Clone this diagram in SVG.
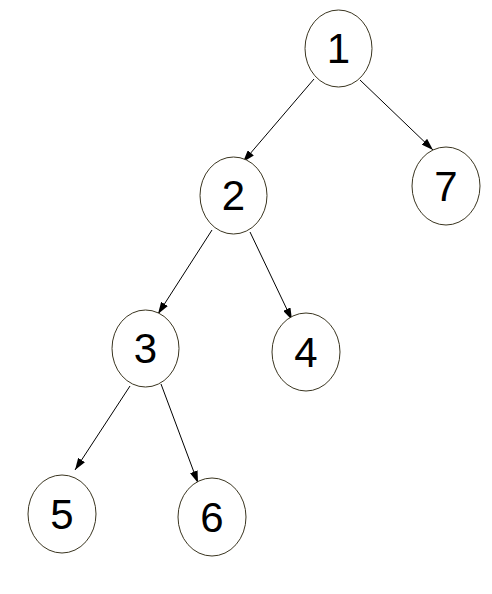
<svg xmlns="http://www.w3.org/2000/svg" width="492" height="594" viewBox="0 0 492 594">
<style>
.node ellipse{fill:#ffffff;stroke:#3a3520;stroke-width:1}
.node text{font-family:"Liberation Sans",Arial,sans-serif;font-size:42px;fill:#000;text-anchor:middle}
.edge{stroke:#000;stroke-width:1;fill:none;marker-end:url(#arr)}
</style>
<defs>
<marker id="arr" viewBox="0 0 12 8" refX="12" refY="4" markerWidth="12" markerHeight="8" markerUnits="userSpaceOnUse" orient="auto">
<path d="M0,0 L12,4 L0,8 Z" fill="#000"/>
</marker>
</defs>
<rect width="492" height="594" fill="#fff"/>
<g id="connectors">
<line class="edge" x1="314" y1="79" x2="243" y2="162"/>
<line class="edge" x1="360" y1="80" x2="433" y2="150"/>
<line class="edge" x1="212" y1="230" x2="158" y2="314"/>
<line class="edge" x1="250" y1="232" x2="292" y2="320"/>
<line class="edge" x1="130" y1="386" x2="75" y2="470"/>
<line class="edge" x1="161" y1="384" x2="198" y2="483"/>
</g>
<g id="node1" class="node"><ellipse cx="338.5" cy="48.5" rx="33.5" ry="38.5"/><text x="338.5" y="63">1</text></g>
<g id="node2" class="node"><ellipse cx="233.5" cy="195.5" rx="33.5" ry="38.5"/><text x="233.5" y="210">2</text></g>
<g id="node7" class="node"><ellipse cx="446" cy="186" rx="34" ry="39"/><text x="446" y="201">7</text></g>
<g id="node3" class="node"><ellipse cx="145.5" cy="348.5" rx="33.5" ry="38.5"/><text x="145.5" y="363">3</text></g>
<g id="node4" class="node"><ellipse cx="306" cy="352" rx="34" ry="39"/><text x="306" y="367">4</text></g>
<g id="node5" class="node"><ellipse cx="62" cy="514" rx="34" ry="39"/><text x="62" y="529">5</text></g>
<g id="node6" class="node"><ellipse cx="212" cy="517" rx="34" ry="39"/><text x="212" y="532">6</text></g>
</svg>
